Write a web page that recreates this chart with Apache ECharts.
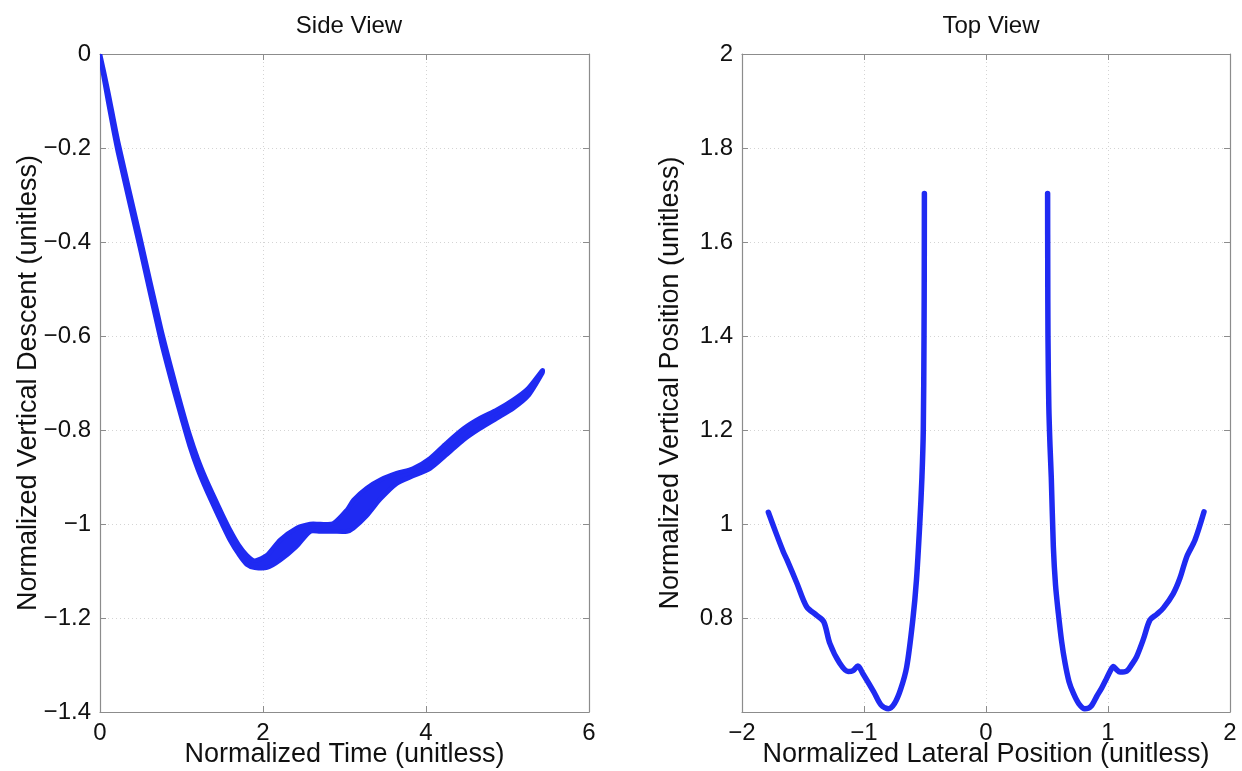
<!DOCTYPE html>
<html>
<head>
<meta charset="utf-8">
<title>Side View / Top View</title>
<script src="https://cdn.jsdelivr.net/npm/echarts@6/dist/echarts.min.js"></script>
<style>
  html, body { margin: 0; padding: 0; background: #fff; }
  #chart { width: 1242px; height: 771px; }
</style>
</head>
<body>
<div id="chart"></div>
<script>
// Side view: band of descent trajectories, given by its upper and lower edges
const sideTime  = [0, 0.1, 0.22, 0.49, 0.75, 0.9, 1.0, 1.1, 1.2, 1.3, 1.4, 1.5, 1.6, 1.7, 1.8, 1.9, 2.05, 2.21, 2.41, 2.58, 2.70, 2.86, 3.03, 3.11, 3.27, 3.44, 3.64, 3.84, 4.05, 4.25, 4.46, 4.66, 4.87, 5.07, 5.25, 5.43];
const sideUpper = [0, -0.080, -0.185, -0.388, -0.585, -0.686, -0.750, -0.810, -0.861, -0.904, -0.942, -0.979, -1.014, -1.044, -1.066, -1.078, -1.066, -1.034, -1.009, -1.000, -1.000, -0.999, -0.970, -0.949, -0.924, -0.906, -0.892, -0.882, -0.860, -0.828, -0.797, -0.775, -0.757, -0.736, -0.712, -0.673];
const sideLower = [-0.004, -0.102, -0.209, -0.412, -0.612, -0.712, -0.774, -0.834, -0.884, -0.926, -0.964, -1.001, -1.036, -1.064, -1.086, -1.093, -1.093, -1.077, -1.048, -1.016, -1.016, -1.016, -1.016, -1.009, -0.983, -0.947, -0.914, -0.898, -0.882, -0.853, -0.821, -0.797, -0.775, -0.754, -0.728, -0.678];

// Top view: left and right lateral trajectories
const topLeftX = [-1.784, -1.72, -1.66, -1.63, -1.55, -1.47, -1.39, -1.33, -1.28, -1.20, -1.13, -1.09, -1.05, -1.01, -0.92, -0.86, -0.80, -0.75, -0.70, -0.65, -0.60, -0.57, -0.543, -0.525, -0.514, -0.508, -0.506, -0.505];
const topLeftY = [1.025, 0.980, 0.940, 0.923, 0.874, 0.824, 0.806, 0.792, 0.746, 0.704, 0.686, 0.688, 0.698, 0.682, 0.643, 0.615, 0.607, 0.618, 0.648, 0.696, 0.796, 0.881, 1.000, 1.100, 1.200, 1.400, 1.550, 1.703];
const topRightX = [0.505, 0.506, 0.508, 0.515, 0.525, 0.535, 0.552, 0.570, 0.593, 0.620, 0.648, 0.680, 0.716, 0.760, 0.810, 0.860, 0.907, 0.950, 0.989, 1.020, 1.044, 1.070, 1.098, 1.153, 1.200, 1.235, 1.290, 1.344, 1.400, 1.453, 1.535, 1.590, 1.645, 1.713, 1.787];
const topRightY = [1.703, 1.550, 1.400, 1.250, 1.164, 1.100, 0.952, 0.870, 0.810, 0.750, 0.704, 0.665, 0.640, 0.618, 0.607, 0.612, 0.633, 0.652, 0.672, 0.688, 0.697, 0.690, 0.685, 0.687, 0.703, 0.718, 0.755, 0.796, 0.808, 0.821, 0.852, 0.885, 0.930, 0.966, 1.026];

// Tick settings
const sideXTicks = { min: 0, max: 6, interval: 2 };
const sideYTicks = { min: -1.4, max: 0, interval: 0.2 };
const topXTicks  = { min: -2, max: 2, interval: 1 };
const topYTicks  = { min: 0.6, max: 2, interval: 0.2 };

const BLUE = '#1f2af2';
const FRAME = '#8c8c8c';
const TEXT = '#111';
const FONT = '"Liberation Sans", Arial, Helvetica, sans-serif';
const TICK_SIZE = 24;
const NAME_SIZE = 27;

const fmt = v => String(Math.round(v * 1000) / 1000).replace('-', '\u2212');

function labelStyle(extra) {
  return Object.assign({ show: true, fontSize: TICK_SIZE, color: TEXT, fontFamily: FONT, formatter: fmt }, extra || {});
}

function mainAxis(ticks, grid, pos, name, extra) {
  return Object.assign({
    type: 'value', gridIndex: grid, position: pos,
    min: ticks.min, max: ticks.max, interval: ticks.interval,
    name: name, nameLocation: 'middle', nameMoveOverlap: false,
    nameTextStyle: { fontSize: NAME_SIZE, color: TEXT, fontFamily: FONT },
    axisLine: { show: true, onZero: false, lineStyle: { color: FRAME, width: 1.2 } },
    axisTick: { show: true, inside: true, length: 6, lineStyle: { color: FRAME } },
    axisLabel: labelStyle(),
    splitLine: { show: true, lineStyle: { color: '#d4d4d4', type: [1, 3], width: 1 } }
  }, extra || {});
}
function frameAxis(ticks, grid, pos) {
  return {
    type: 'value', gridIndex: grid, position: pos,
    min: ticks.min, max: ticks.max, interval: ticks.interval,
    axisLine: { show: true, onZero: false, lineStyle: { color: FRAME, width: 1.2 } },
    axisTick: { show: true, inside: true, length: 6, lineStyle: { color: FRAME } },
    axisLabel: { show: false },
    splitLine: { show: false }
  };
}

const chart = echarts.init(document.getElementById('chart'), null, { renderer: 'canvas' });

chart.setOption({
  backgroundColor: '#fff',
  animation: false,
  title: [
    { text: 'Side View', left: 344, top: 9, textAlign: 'center',
      textStyle: { fontSize: 24, fontWeight: 'normal', color: TEXT, fontFamily: FONT } },
    { text: 'Top View', left: 986, top: 9, textAlign: 'center',
      textStyle: { fontSize: 24, fontWeight: 'normal', color: TEXT, fontFamily: FONT } }
  ],
  grid: [
    { left: 100, top: 54, width: 489, height: 658, outerBoundsMode: 'none', containLabel: false },
    { left: 742, top: 54, width: 488, height: 658, outerBoundsMode: 'none', containLabel: false }
  ],
  xAxis: [
    mainAxis(sideXTicks, 0, 'bottom', 'Normalized Time (unitless)', { nameGap: 29, axisLabel: labelStyle({ margin: 9 }) }),
    frameAxis(sideXTicks, 0, 'top'),
    mainAxis(topXTicks, 1, 'bottom', 'Normalized Lateral Position (unitless)', { nameGap: 29, axisLabel: labelStyle({ margin: 9 }) }),
    frameAxis(topXTicks, 1, 'top')
  ],
  yAxis: [
    mainAxis(sideYTicks, 0, 'left', 'Normalized Vertical Descent (unitless)', { nameGap: 58, axisLabel: labelStyle({ margin: 9 }) }),
    frameAxis(sideYTicks, 0, 'right'),
    mainAxis(topYTicks, 1, 'left', 'Normalized Vertical Position (unitless)', { nameGap: 58, axisLabel: labelStyle({ margin: 9, showMinLabel: false }) }),
    frameAxis(topYTicks, 1, 'right')
  ],
  series: [
    {
      name: 'Side View band',
      type: 'custom',
      xAxisIndex: 0, yAxisIndex: 0,
      data: [[sideTime[0], sideUpper[0]]],
      clip: true,
      renderItem: function (params, api) {
        const pts = [];
        for (let i = 0; i < sideTime.length; i++) pts.push(api.coord([sideTime[i], sideUpper[i]]));
        for (let i = sideTime.length - 1; i >= 0; i--) pts.push(api.coord([sideTime[i], sideLower[i]]));
        return {
          type: 'polygon',
          shape: { points: pts, smooth: 0.25 },
          style: { fill: BLUE, stroke: BLUE, lineWidth: 4.5, lineJoin: 'round' }
        };
      }
    },
    {
      name: 'Top View left',
      type: 'line', xAxisIndex: 2, yAxisIndex: 2,
      data: topLeftX.map((x, i) => [x, topLeftY[i]]),
      showSymbol: false, smooth: 0.3,
      lineStyle: { color: BLUE, width: 5.5, cap: 'round', join: 'round' }
    },
    {
      name: 'Top View right',
      type: 'line', xAxisIndex: 2, yAxisIndex: 2,
      data: topRightX.map((x, i) => [x, topRightY[i]]),
      showSymbol: false, smooth: 0.3,
      lineStyle: { color: BLUE, width: 5.5, cap: 'round', join: 'round' }
    }
  ]
});
</script>
</body>
</html>
